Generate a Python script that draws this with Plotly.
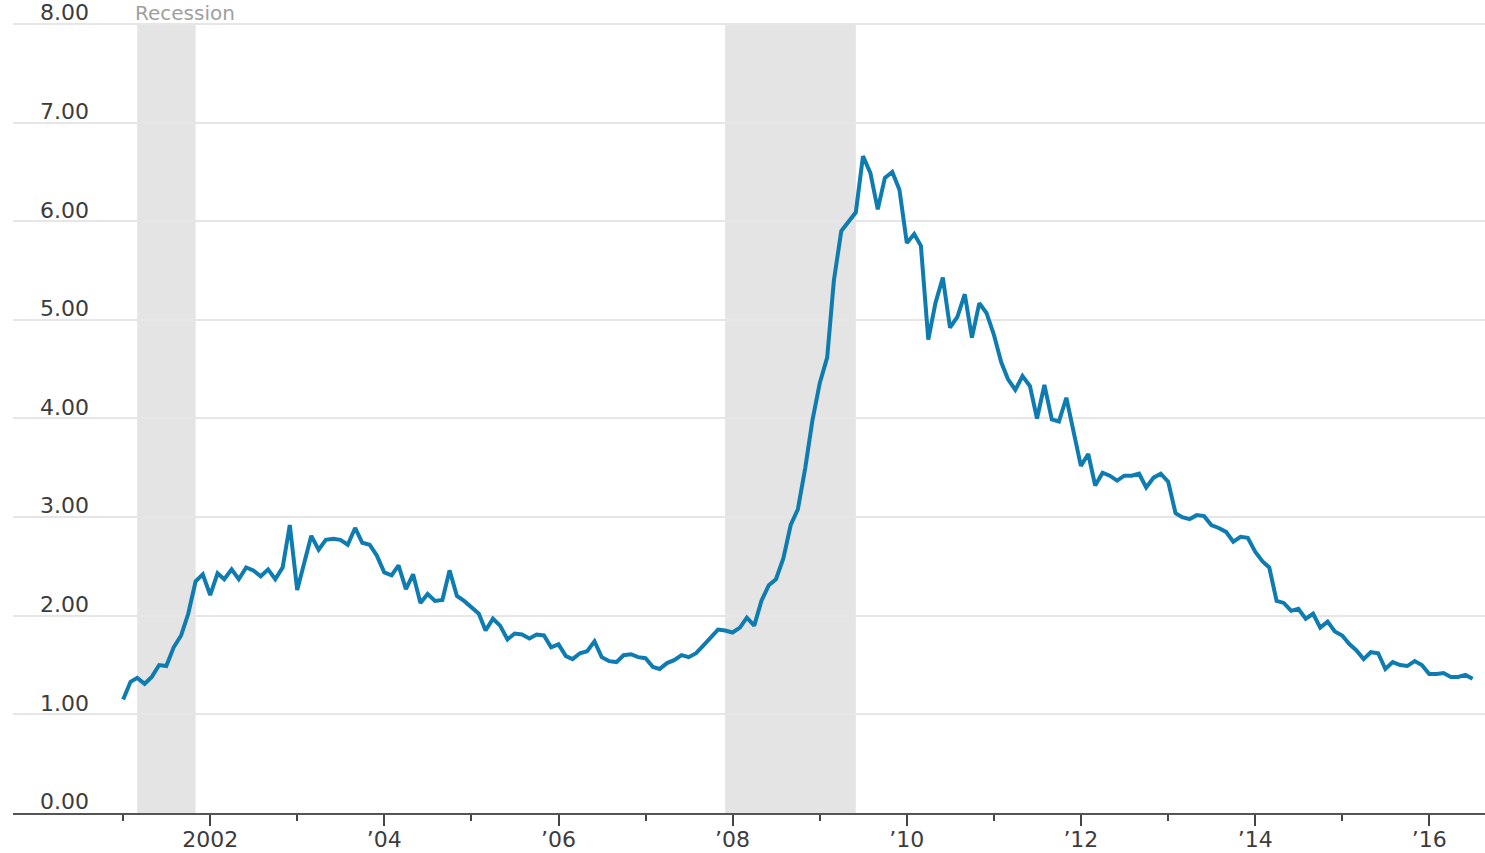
import pandas as pd
import plotly.graph_objects as go

# Monthly values, Jan 2001 .. Jul 2016
values = [
    1.15, 1.33, 1.37, 1.31, 1.38, 1.50, 1.49, 1.68, 1.80, 2.02, 2.35, 2.42,
    2.21, 2.43, 2.37, 2.47, 2.37, 2.49, 2.46, 2.40, 2.47, 2.37, 2.49, 2.92,
    2.26, 2.54, 2.81, 2.67, 2.77, 2.78, 2.77, 2.72, 2.89, 2.74, 2.72, 2.61,
    2.44, 2.41, 2.51, 2.27, 2.42, 2.13, 2.22, 2.15, 2.16, 2.46, 2.20, 2.15,
    2.08, 2.02, 1.85, 1.97, 1.90, 1.76, 1.82, 1.81, 1.77, 1.81, 1.80, 1.68,
    1.71, 1.59, 1.56, 1.62, 1.64, 1.74, 1.58, 1.54, 1.53, 1.60, 1.61, 1.58,
    1.57, 1.48, 1.46, 1.52, 1.55, 1.60, 1.58, 1.62, 1.70, 1.78, 1.86, 1.85,
    1.83, 1.88, 1.98, 1.90, 2.15, 2.31, 2.37, 2.58, 2.92, 3.08, 3.50, 3.98,
    4.36, 4.62, 5.40, 5.90, 6.00, 6.09, 6.66, 6.49, 6.12, 6.44, 6.50, 6.32,
    5.78, 5.87, 5.75, 4.80, 5.17, 5.43, 4.92, 5.03, 5.26, 4.82, 5.17, 5.07,
    4.85, 4.57, 4.40, 4.29, 4.43, 4.33, 4.00, 4.34, 3.99, 3.97, 4.21, 3.85,
    3.52, 3.64, 3.32, 3.45, 3.42, 3.37, 3.42, 3.42, 3.44, 3.30, 3.40, 3.44,
    3.36, 3.04, 3.00, 2.98, 3.02, 3.01, 2.92, 2.89, 2.85, 2.75, 2.80, 2.79,
    2.65, 2.55, 2.49, 2.15, 2.13, 2.05, 2.07, 1.97, 2.02, 1.88, 1.94, 1.84,
    1.80, 1.71, 1.65, 1.56, 1.63, 1.62, 1.46, 1.53, 1.50, 1.49, 1.54, 1.50,
    1.41, 1.41, 1.42, 1.38, 1.38, 1.40, 1.36,
]
start_month = "2001-01-01"

recession_starts = ["2001-03-01", "2007-12-01"]
recession_ends = ["2001-11-01", "2009-06-01"]
recession_label = "Recession"

major_tick_vals = ["2002-01-01", "2004-01-01", "2006-01-01", "2008-01-01",
                   "2010-01-01", "2012-01-01", "2014-01-01", "2016-01-01"]
major_tick_text = ["2002", "\u201904", "\u201906", "\u201908",
                   "\u201910", "\u201912", "\u201914", "\u201916"]
minor_tick_vals = ["2001-01-01", "2003-01-01", "2005-01-01", "2007-01-01",
                   "2009-01-01", "2011-01-01", "2013-01-01", "2015-01-01"]

y_tick_vals = [0, 1, 2, 3, 4, 5, 6, 7, 8]
y_tick_text = ["0.00", "1.00", "2.00", "3.00", "4.00", "5.00", "6.00", "7.00", "8.00"]
y_top = 8
y_range_top = 8.243

dates = pd.date_range(start_month, periods=len(values), freq="MS")

FONT = "DejaVu Sans"
fig = go.Figure()
fig.add_trace(go.Scatter(
    x=dates, y=values, mode="lines",
    line=dict(color="#0e7cb1", width=4),
    hoverinfo="x+y", showlegend=False,
))

for s, e in zip(recession_starts, recession_ends):
    fig.add_shape(type="rect", xref="x", yref="y", x0=s, x1=e, y0=0, y1=y_top,
                  fillcolor="#e4e4e4", line=dict(width=0), layer="below")

fig.add_annotation(x=recession_starts[0], y=1, xref="x", yref="paper",
                   text=recession_label, showarrow=False,
                   xanchor="left", yanchor="top", xshift=-3, yshift=0,
                   borderpad=0,
                   font=dict(family=FONT, size=20, color="#a0a0a0"))

fig.update_layout(
    width=1485, height=853,
    margin=dict(l=13, r=0, t=0, b=40),
    paper_bgcolor="white", plot_bgcolor="white",
    xaxis=dict(
        type="date", automargin=False,
        range=["1999-09-27", "2016-08-22"],
        tickmode="array", tickvals=major_tick_vals, ticktext=major_tick_text,
        ticks="outside", ticklen=11, tickwidth=2, tickcolor="#444444",
        ticklabelstandoff=-5,
        showgrid=False, zeroline=False,
        showline=True, linecolor="#555555", linewidth=2,
        tickfont=dict(family=FONT, size=22, color="#3c3c3c"),
        minor=dict(tickmode="array", tickvals=minor_tick_vals, ticks="outside",
                   ticklen=6, tickwidth=2, tickcolor="#444444", showgrid=False),
    ),
    yaxis=dict(
        automargin=False,
        range=[0, y_range_top],
        tickmode="array", tickvals=y_tick_vals, ticktext=y_tick_text,
        ticklabelposition="inside top", ticklabelstandoff=24,
        ticklabelshift=4, ticklabeloverflow="allow",
        showgrid=True, gridcolor="#e6e6e6", gridwidth=2,
        zeroline=False, showline=False, ticks="",
        tickfont=dict(family=FONT, size=22, color="#3c3c3c"),
    ),
)

fig.write_html("out.html", config={"displayModeBar": False},
               post_script="document.body.style.margin='0';document.body.style.overflow='hidden';")
